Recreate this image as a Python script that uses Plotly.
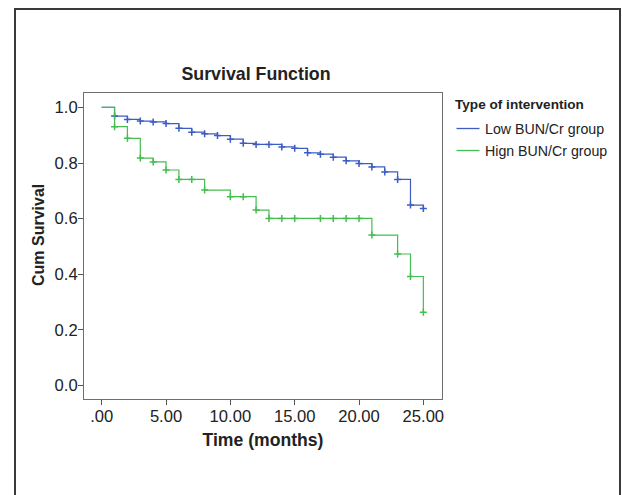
import plotly.graph_objects as go

# ---- data ----
low_months = [0, 1, 2, 3, 4, 5, 6, 7, 8, 9, 10, 11, 12, 13, 14, 15, 16, 17, 18, 19, 20, 21, 22, 23, 24, 25]
low_surv = [1.0, 0.969, 0.957, 0.951, 0.948, 0.942, 0.925, 0.911, 0.905, 0.899, 0.886, 0.871, 0.867,
            0.867, 0.858, 0.853, 0.837, 0.832, 0.821, 0.808, 0.798, 0.786, 0.768, 0.741, 0.649, 0.637]

high_months = [0, 1, 2, 3, 4, 5, 6, 7, 8, 10, 11, 12, 13, 14, 15, 17, 18, 19, 20, 21, 23, 24, 25]
high_surv = [1.0, 0.931, 0.889, 0.818, 0.804, 0.775, 0.741, 0.741, 0.703, 0.679, 0.679, 0.631, 0.601,
             0.601, 0.601, 0.601, 0.601, 0.601, 0.601, 0.541, 0.473, 0.392, 0.263]

x_tickvals = [0, 5, 10, 15, 20, 25]
x_ticktext = [".00", "5.00", "10.00", "15.00", "20.00", "25.00"]
y_tickvals = [0.0, 0.2, 0.4, 0.6, 0.8, 1.0]
y_ticktext = ["0.0", "0.2", "0.4", "0.6", "0.8", "1.0"]

series_names = ["Low BUN/Cr group", "Hign BUN/Cr group"]
BLUE = "#3d5cc4"
GREEN = "#45bd50"

FONT = "Liberation Sans, Arial, sans-serif"
TXT = "#222"

fig = go.Figure()
for months, surv, name, col in [(low_months, low_surv, series_names[0], BLUE),
                                (high_months, high_surv, series_names[1], GREEN)]:
    fig.add_trace(go.Scatter(x=months, y=surv, mode="lines", line=dict(color=col, width=1.2, shape="hv"),
                             name=name, showlegend=False, hoverinfo="skip"))
    fig.add_trace(go.Scatter(x=months[1:], y=surv[1:], mode="markers",
                             marker=dict(symbol="cross-thin", size=5, line=dict(color=col, width=1.5)),
                             showlegend=False, hoverinfo="skip"))

axis_common = dict(showgrid=False, zeroline=False, showline=True, mirror=True, linecolor="#6e6e6e",
                   linewidth=1, ticks="outside", ticklen=5, tickcolor="#555", tickwidth=1,
                   ticklabelstandoff=-3,
                   tickfont=dict(family=FONT, size=16.6, color=TXT))

fig.update_xaxes(range=[-1.376, 26.45], tickvals=x_tickvals, ticktext=x_ticktext,
                 title=dict(text="<b>Time (months)</b>", font=dict(family=FONT, size=17.6, color=TXT),
                            standoff=8),
                 **axis_common)
fig.update_yaxes(range=[-0.0486, 1.052], tickvals=y_tickvals, ticktext=y_ticktext, **axis_common)

W, H = 622, 495
L, R, T, B = 84, 180, 93, 96
pw, ph = W - L - R, H - T - B


def px(x):
    return (x - L) / pw


def py(y):
    return (H - B - y) / ph


ann = [dict(text="<b>Cum Survival</b>", xref="paper", yref="paper", x=px(38), y=py(235), textangle=-90,
            showarrow=False, xanchor="center", yanchor="middle",
            font=dict(family=FONT, size=16, color=TXT)),
       dict(text="<b>Type of intervention</b>", xref="paper", yref="paper", x=px(453), y=py(105),
            showarrow=False, xanchor="left", yanchor="middle",
            font=dict(family=FONT, size=13.6, color=TXT)),
       dict(text=series_names[0], xref="paper", yref="paper", x=px(483), y=py(128.5),
            showarrow=False, xanchor="left", yanchor="middle",
            font=dict(family=FONT, size=14.2, color=TXT)),
       dict(text=series_names[1], xref="paper", yref="paper", x=px(483), y=py(150.5),
            showarrow=False, xanchor="left", yanchor="middle",
            font=dict(family=FONT, size=14.2, color=TXT))]

shapes = [
    dict(type="line", xref="paper", yref="paper", x0=px(456.5), x1=px(479.5), y0=py(128.5), y1=py(128.5),
         line=dict(color=BLUE, width=1.3)),
    dict(type="line", xref="paper", yref="paper", x0=px(456.5), x1=px(479.5), y0=py(150.5), y1=py(150.5),
         line=dict(color=GREEN, width=1.3)),
    dict(type="rect", xref="paper", yref="paper", x0=px(15), x1=px(620), y0=py(520), y1=py(9),
         line=dict(color="#3a3a3a", width=2), fillcolor="rgba(0,0,0,0)", layer="below"),
]

fig.update_layout(
    width=W, height=H,
    margin=dict(l=L, r=R, t=T, b=B, pad=0),
    paper_bgcolor="white", plot_bgcolor="white",
    title=dict(text="<b>Survival Function</b>", x=px(256), xref="paper", xanchor="center",
               y=1 - 74 / H, yref="container", yanchor="middle",
               font=dict(family=FONT, size=17.8, color=TXT)),
    annotations=ann, shapes=shapes, showlegend=False,
)

fig.write_html("out.html", config={"displayModeBar": False},
               post_script="document.body.style.margin='0px';")
